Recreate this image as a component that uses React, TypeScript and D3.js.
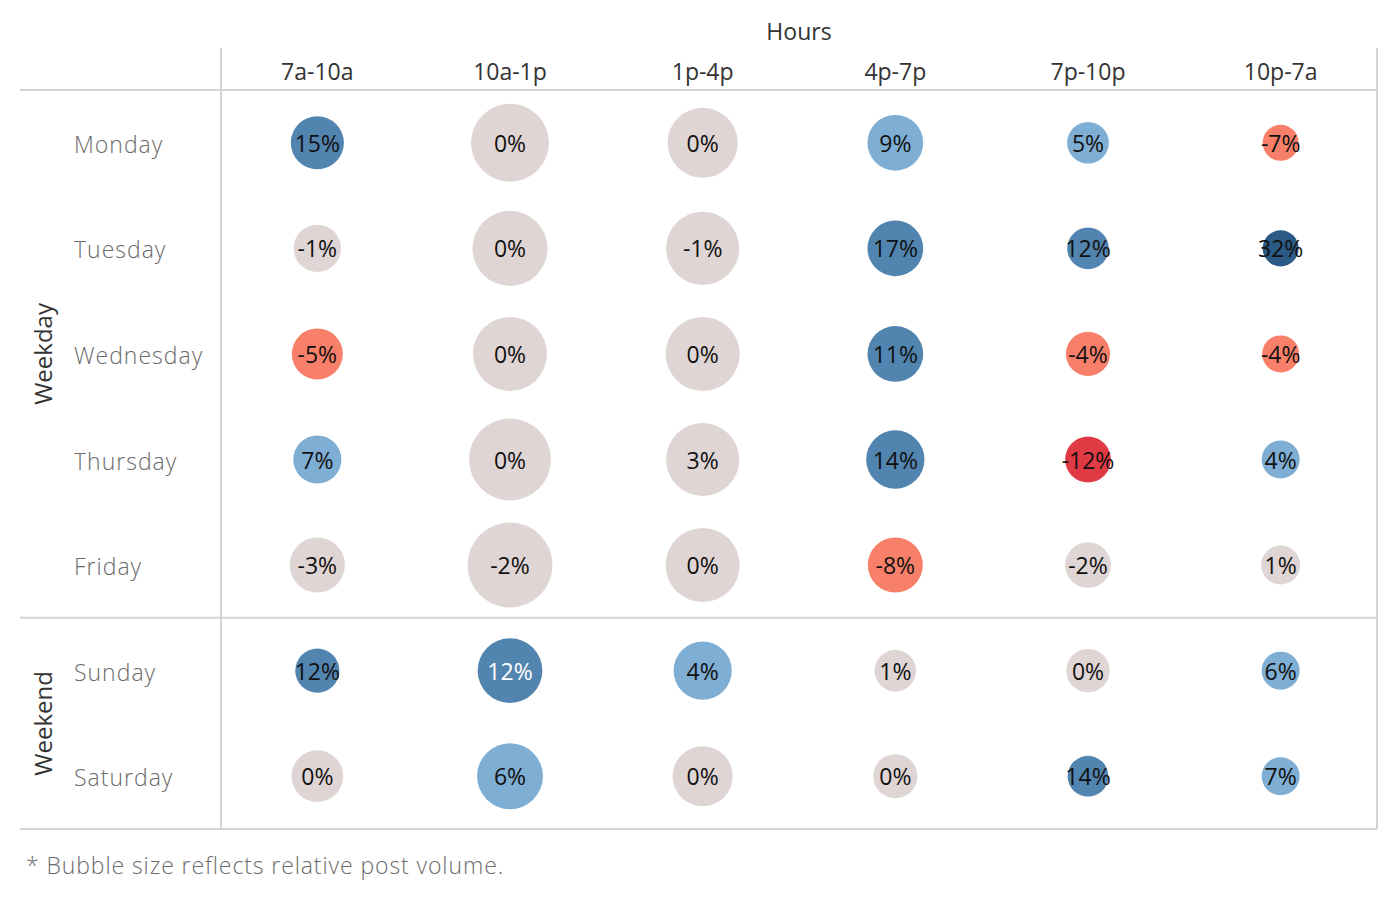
import React from "react";
import * as d3 from "d3";

const hours = ["7a-10a", "10a-1p", "1p-4p", "4p-7p", "7p-10p", "10p-7a"];
const days = ["Monday", "Tuesday", "Wednesday", "Thursday", "Friday", "Sunday", "Saturday"];
const groups = [
  { name: "Weekday", first: "Monday", last: "Friday" },
  { name: "Weekend", first: "Sunday", last: "Saturday" },
];

// percent change per day (rows) x hour block (columns)
const pctChange = [
  [15, 0, 0, 9, 5, -7],
  [-1, 0, -1, 17, 12, 32],
  [-5, 0, 0, 11, -4, -4],
  [7, 0, 3, 14, -12, 4],
  [-3, -2, 0, -8, -2, 1],
  [12, 12, 4, 1, 0, 6],
  [0, 6, 0, 0, 14, 7],
];

// relative post volume (bubble area)
const volume = [
  [39, 84, 68, 43, 24, 18],
  [31, 78, 74, 43, 24, 18],
  [36, 76, 76, 43, 27, 19],
  [32, 93, 74, 47, 29, 20],
  [42, 100, 76, 42, 29, 21],
  [27, 58, 47, 24, 26, 20],
  [37, 60, 50, 27, 23, 20],
];

const colorThresholds = [-10, -3.5, 3.5, 10, 20];
const colorRange = ["#e03a44", "#f8806a", "#dfd5d4", "#7eaed3", "#5284b0", "#2c5a87"];

const FONT = "'Open Sans', Lato, sans-serif";
const LINE = "#d4d4d4";

export default function App() {
  const left = 221;
  const right = 1377;
  const top = 90;
  const bottom = 829;
  const x = d3.scaleBand<string>().domain(hours).range([left, right]);
  const y = d3.scaleBand<string>().domain(days).range([top, bottom]);
  const r = d3.scaleSqrt().domain([0, 100]).range([0, 42.5]);
  const color = d3.scaleThreshold<number, string>().domain(colorThresholds).range(colorRange);

  const cells: any[] = [];
  days.forEach((d, i) =>
    hours.forEach((h, j) => {
      cells.push({ d, h, v: pctChange[i][j], vol: volume[i][j] });
    })
  );

  return (
    <svg
      width={1400}
      height={900}
      style={{ position: "absolute", left: 0, top: 0, background: "#fff" }}
      fontFamily={FONT}
    >
      {/* grid lines */}
      <line x1={20} x2={right} y1={top} y2={top} stroke={LINE} strokeWidth={2} />
      <line x1={left} x2={left} y1={48} y2={bottom} stroke={LINE} strokeWidth={2} />
      <line x1={right} x2={right} y1={48} y2={bottom} stroke={LINE} strokeWidth={2} />
      <line x1={20} x2={right} y1={y("Sunday")!} y2={y("Sunday")!} stroke={LINE} strokeWidth={2} />
      <line x1={20} x2={right} y1={bottom} y2={bottom} stroke={LINE} strokeWidth={2} />

      {/* Title */}
      <text x={(left + right) / 2} y={40} textAnchor="middle" fontSize={23} fill="#333">
        Hours
      </text>
      {hours.map((h) => (
        <text key={h} x={x(h)! + x.bandwidth() / 2} y={80} textAnchor="middle" fontSize={23} fill="#333">
          {h}
        </text>
      ))}

      {/* group labels */}
      {groups.map((g) => {
        const cy = (y(g.first)! + y(g.last)! + y.bandwidth()) / 2;
        return (
          <text
            key={g.name}
            transform={`translate(52,${cy}) rotate(-90)`}
            textAnchor="middle"
            fontSize={24}
            fill="#333"
          >
            {g.name}
          </text>
        );
      })}

      {/* day labels */}
      {days.map((d) => (
        <text
          key={d}
          x={74}
          y={y(d)! + y.bandwidth() / 2 + 10}
          fontSize={23}
          fill="#6b6b6b"
          fontWeight={300}
          letterSpacing={1}
        >
          {d}
        </text>
      ))}

      {/* bubbles */}
      {cells.map((c, k) => {
        const cx = x(c.h)! + x.bandwidth() / 2;
        const cy = y(c.d)! + y.bandwidth() / 2;
        const rad = r(c.vol);
        const fill = color(c.v);
        const dark = c.v >= 10 && rad > 30;
        return (
          <g key={k}>
            <circle cx={cx} cy={cy} r={rad} fill={fill} />
            <text
              x={cx}
              y={cy + 9}
              textAnchor="middle"
              fontSize={23}
              fill={dark ? "#fff" : "#111"}
            >
              {`${c.v}%`}
            </text>
          </g>
        );
      })}

      <text x={26} y={874} fontSize={23} fill="#6b6b6b" fontWeight={300} letterSpacing={0.9}>
        * Bubble size reflects relative post volume.
      </text>
    </svg>
  );
}
